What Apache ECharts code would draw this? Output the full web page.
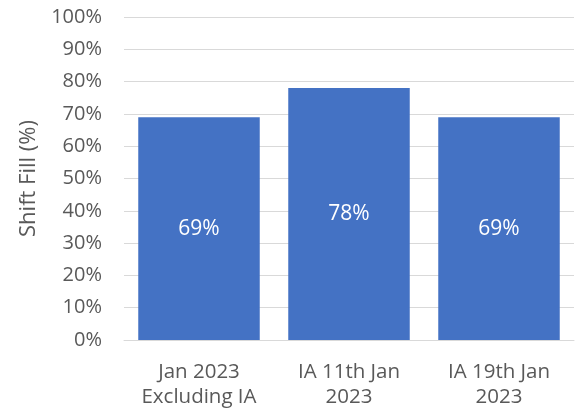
<!DOCTYPE html>
<html>
<head>
<meta charset="utf-8">
<script src="https://cdn.jsdelivr.net/npm/echarts@6/dist/echarts.min.js"></script>
<style>
  html, body { margin: 0; padding: 0; background: #fff; }
  #chart { width: 577px; height: 411px; }
</style>
</head>
<body>
<div id="chart"></div>
<script>
// Shift fill rate by period
const categories = ['Jan 2023\nExcluding IA', 'IA 11th Jan\n2023', 'IA 19th Jan\n2023'];
const shiftFill = [69, 78, 69];
const yTicks = { min: 0, max: 100, step: 10 };

const font = "'Open Sans', 'Noto Sans', sans-serif";
const textColor = '#595959';
const chart = echarts.init(document.getElementById('chart'), null, { renderer: 'canvas' });
chart.setOption({
  animation: false,
  grid: { left: 124, right: 3, top: 17, bottom: 71 },
  xAxis: {
    type: 'category',
    data: categories,
    axisLine: { lineStyle: { color: '#d9d9d9', width: 1 } },
    axisTick: { show: false },
    axisLabel: {
      color: textColor, fontSize: 20.5, fontFamily: font, lineHeight: 25, margin: 20,
      interval: 0, hideOverlap: false
    }
  },
  yAxis: {
    type: 'value',
    min: yTicks.min, max: yTicks.max, interval: yTicks.step,
    name: 'Shift Fill (%)',
    nameLocation: 'middle',
    nameGap: 84,
    nameTextStyle: { color: textColor, fontSize: 22, fontFamily: font },
    axisLine: { show: false },
    axisTick: { show: false },
    splitLine: { lineStyle: { color: '#d9d9d9', width: 1 } },
    axisLabel: { color: textColor, fontSize: 20, fontFamily: font, margin: 22, formatter: v => v + '%' }
  },
  series: [{
    type: 'bar',
    data: shiftFill,
    barCategoryGap: '19%',
    itemStyle: { color: '#4472c4' },
    label: {
      show: true, position: 'inside', color: '#ffffff',
      fontSize: 21, fontFamily: font, formatter: p => p.value + '%'
    }
  }]
});
</script>
</body>
</html>
